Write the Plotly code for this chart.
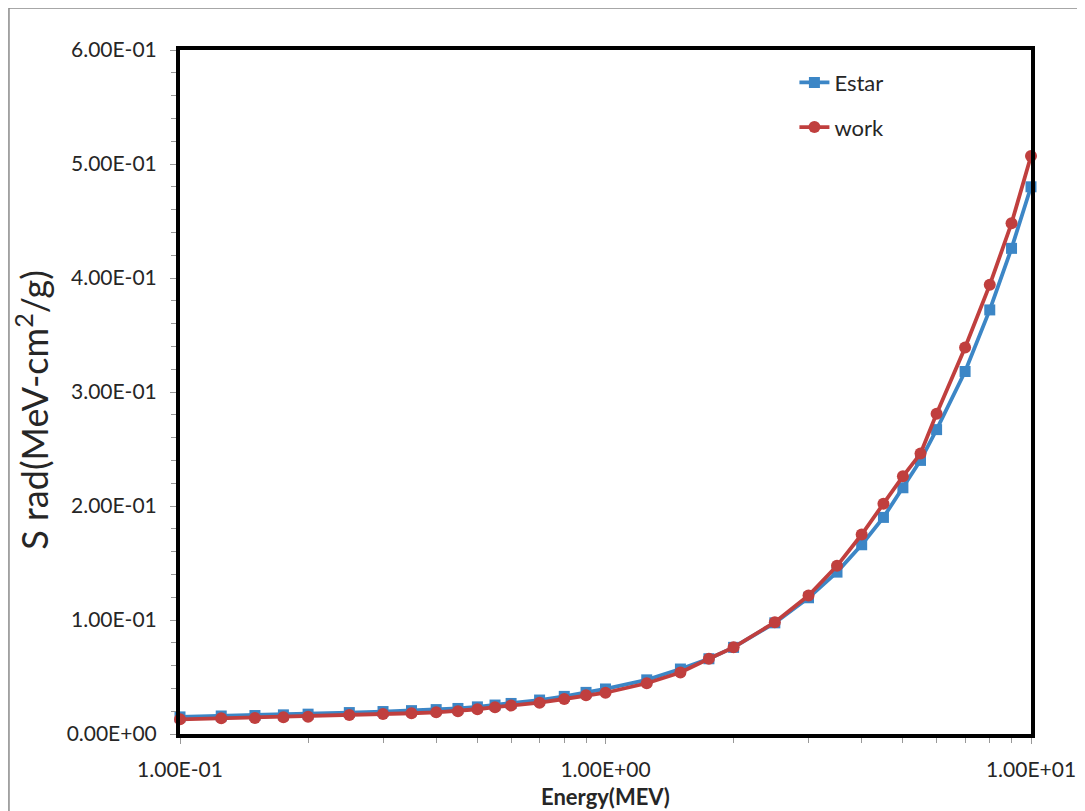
import plotly.graph_objects as go

energy = [0.1, 0.125, 0.15, 0.175, 0.2, 0.25, 0.3, 0.35, 0.4, 0.45, 0.5, 0.55, 0.6,
          0.7, 0.8, 0.9, 1.0, 1.25, 1.5, 1.75, 2.0, 2.5, 3.0, 3.5, 4.0, 4.5, 5.0,
          5.5, 6.0, 7.0, 8.0, 9.0, 10.0]
estar = [0.0150, 0.0158, 0.0162, 0.0168, 0.0174, 0.0188, 0.0197, 0.0205, 0.0214,
         0.0224, 0.0238, 0.0254, 0.0268, 0.0298, 0.0330, 0.0365, 0.0395, 0.0475,
         0.0570, 0.0660, 0.0760, 0.0975, 0.1195, 0.1420, 0.1660, 0.1900, 0.2160,
         0.2400, 0.2670, 0.3180, 0.3720, 0.4260, 0.4800]
work = [0.0129, 0.0138, 0.0140, 0.0146, 0.0152, 0.0167, 0.0175, 0.0182, 0.0190,
        0.0200, 0.0217, 0.0235, 0.0249, 0.0275, 0.0307, 0.0340, 0.0362, 0.0445,
        0.0540, 0.0660, 0.0760, 0.0980, 0.1215, 0.1475, 0.1750, 0.2020, 0.2260,
        0.2460, 0.2810, 0.3390, 0.3940, 0.4480, 0.5070]

y_ticks = [0.0, 0.1, 0.2, 0.3, 0.4, 0.5, 0.6]
y_labels = ["0.00E+00", "1.00E-01", "2.00E-01", "3.00E-01", "4.00E-01", "5.00E-01", "6.00E-01"]
x_ticks = [0.1, 1.0, 10.0]
x_labels = ["1.00E-01", "1.00E+00", "1.00E+01"]
x_minor = [0.2, 0.3, 0.4, 0.5, 0.6, 0.7, 0.8, 0.9, 2, 3, 4, 5, 6, 7, 8, 9]

BLUE = "#3C86C6"
RED = "#C03F3E"
FONT = "Lato"
TXT = "#262626"

fig = go.Figure()
fig.add_trace(go.Scatter(
    x=energy, y=estar, name="Estar", mode="lines+markers",
    line=dict(color=BLUE, width=3.8),
    marker=dict(symbol="square", size=11, color=BLUE),
    cliponaxis=False, legendgroup="a"))
fig.add_trace(go.Scatter(
    x=energy, y=work, name="work", mode="lines+markers",
    line=dict(color=RED, width=3.8),
    marker=dict(symbol="circle", size=12, color=RED),
    cliponaxis=False, legendgroup="b"))

fig.update_layout(
    width=1077, height=803,
    margin=dict(l=172, r=54, t=42, b=77),
    paper_bgcolor="white", plot_bgcolor="white",
    font=dict(family=FONT, size=21, color=TXT),
    showlegend=True,
    legend=dict(x=0.722, y=0.983, xanchor="left", yanchor="top",
                bgcolor="rgba(0,0,0,0)", font=dict(size=22, color=TXT),
                traceorder="grouped", tracegroupgap=13),
    xaxis=dict(type="log", range=[-1, 1], showgrid=False, zeroline=False,
               automargin=False,
               showline=True, mirror=True, linecolor="black", linewidth=4,
               tickmode="array", tickvals=x_ticks, ticktext=x_labels,
               ticks="outside", ticklen=6, tickcolor="#999", tickwidth=1,
               ticklabelstandoff=8,
               minor=dict(tickmode="array", tickvals=x_minor, ticks="outside",
                          ticklen=5, tickcolor="#999", tickwidth=1)),
    yaxis=dict(range=[0, 0.6], showgrid=False, zeroline=False,
               automargin=False,
               showline=True, mirror=True, linecolor="black", linewidth=4,
               tickmode="array", tickvals=y_ticks, ticktext=y_labels,
               ticks="outside", ticklen=6, tickcolor="#999", tickwidth=1,
               ticklabelstandoff=9,
               minor=dict(dtick=0.02, ticks="outside", ticklen=5,
                          tickcolor="#999", tickwidth=1)),
    annotations=[
        dict(text="<b>Energy(MEV)</b>", xref="paper", yref="paper",
             x=0.5, y=-0.092, xanchor="center", yanchor="middle",
             showarrow=False, font=dict(size=22, color=TXT)),
        dict(text="S rad(MeV-cm<sup>2</sup>/g)", xref="paper", yref="paper",
             x=-0.174, y=0.474, xanchor="center", yanchor="middle",
             textangle=-90, showarrow=False, font=dict(size=36, color=TXT)),
    ],
    shapes=[dict(type="rect", xref="paper", yref="paper",
                 x0=-0.201, y0=-0.2, x1=1.2, y1=1.0614,
                 line=dict(color="#8a8a8a", width=1.5), layer="below")],
)

fig.write_html("out.html")
